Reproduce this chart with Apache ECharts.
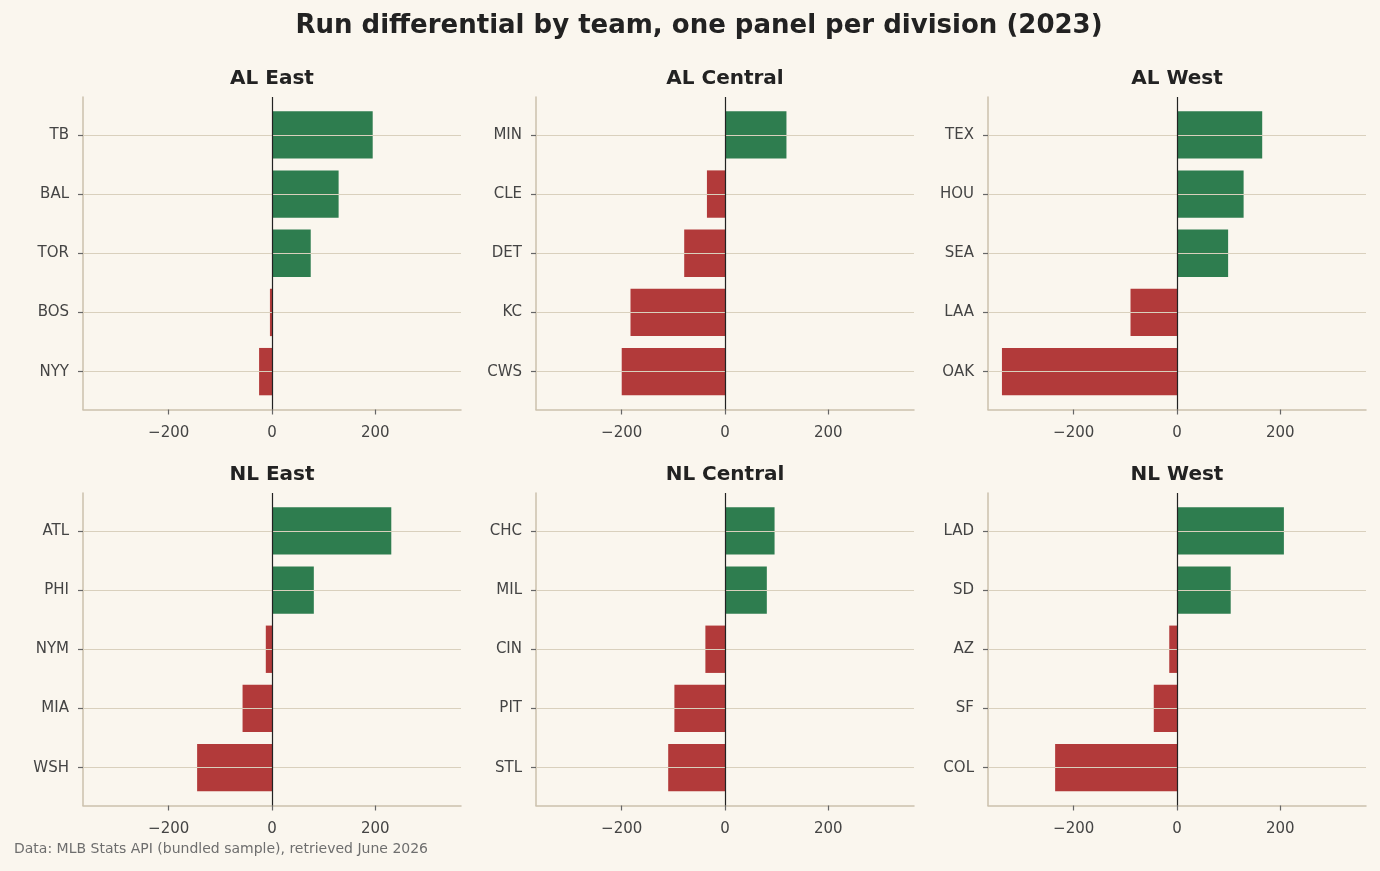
<!DOCTYPE html>
<html>
<head>
<meta charset="utf-8">
<title>Run differential by team (2023)</title>
<script src="https://cdn.jsdelivr.net/npm/echarts@6/dist/echarts.min.js"></script>
<style>
  html, body { margin: 0; padding: 0; background: #faf6ee; }
  #box { width: 1380px; height: 871px; }
</style>
</head>
<body>
<div id="box"></div>
<script>
// one panel per division, teams listed top to bottom
var divisions = ["AL East", "AL Central", "AL West", "NL East", "NL Central", "NL West"];
var teams = [
  ["TB", "BAL", "TOR", "BOS", "NYY"],
  ["MIN", "CLE", "DET", "KC", "CWS"],
  ["TEX", "HOU", "SEA", "LAA", "OAK"],
  ["ATL", "PHI", "NYM", "MIA", "WSH"],
  ["CHC", "MIL", "CIN", "PIT", "STL"],
  ["LAD", "SD", "AZ", "SF", "COL"]
];
var runDiff = [
  [195, 129, 75, -4, -25],
  [119, -35, -79, -183, -200],
  [165, 129, 99, -90, -339],
  [231, 81, -12, -57, -145],
  [96, 81, -38, -98, -110],
  [207, 104, -15, -45, -236]
];
var xTicks = [-200, 0, 200];
var xMin = -366, xMax = 366;

var font = "DejaVu Sans";
var green = "#2e7d4f", red = "#b23a3a";
var spine = "#cbc1ad", gridCol = "#d9d0bd", tickCol = "#666666", labelCol = "#444444";

var colLeft = [83, 536, 988];
var rowTop = [97, 493];
var plotW = 378, plotH = 312.5;
// barh in matplotlib: 5 bars of height 0.8 plus 5% margins -> range -0.64..4.64
var pad = plotH * 0.64 / 5.28;

var grids = [], xAxes = [], yAxes = [], series = [];
var titles = [{
  text: "Run differential by team, one panel per division (2023)",
  left: 699, top: 13, textAlign: "center", padding: 0,
  textStyle: { fontFamily: font, fontSize: 26, fontWeight: "bold", color: "#222222" }
}, {
  text: "Data: MLB Stats API (bundled sample), retrieved June 2026",
  left: 14, top: 842, padding: 0,
  textStyle: { fontFamily: font, fontSize: 14, fontWeight: "normal", color: "#6e6e6e" }
}];

function fmt(v) { return String(v).replace("-", "\u2212"); }

for (var i = 0; i < divisions.length; i++) {
  var px = colLeft[i % 3], py = rowTop[Math.floor(i / 3)];

  titles.push({
    text: divisions[i],
    left: px + plotW / 2, top: py - 28, textAlign: "center", padding: 0,
    textStyle: { fontFamily: font, fontSize: 20, fontWeight: "bold", color: "#222222" }
  });

  // outer grid: spines, x ticks, zero line
  grids.push({ left: px, top: py, width: plotW, height: plotH });
  // inner grid: categories and bars
  grids.push({ left: px, top: py + pad, width: plotW, height: plotH - 2 * pad });

  xAxes.push({
    gridIndex: 2 * i, type: "value", min: xMin, max: xMax,
    axisLine: { onZero: false, lineStyle: { color: spine, width: 1.5 } },
    axisTick: { customValues: xTicks, length: 5, lineStyle: { color: tickCol, width: 1.2 } },
    axisLabel: { customValues: xTicks, formatter: fmt, color: labelCol, fontSize: 15, fontFamily: font, margin: 16 },
    splitLine: { show: false }
  });
  xAxes.push({ gridIndex: 2 * i + 1, type: "value", min: xMin, max: xMax, show: false });

  yAxes.push({
    gridIndex: 2 * i, type: "value", min: 0, max: 1,
    axisLine: { show: true, onZero: false, lineStyle: { color: spine, width: 1.5 } },
    axisTick: { show: false }, axisLabel: { show: false }, splitLine: { show: false }
  });
  yAxes.push({
    gridIndex: 2 * i + 1, type: "category", data: teams[i], inverse: true, boundaryGap: false, z: 3,
    axisLine: { show: false, onZero: false },
    axisTick: { show: true, length: 5, lineStyle: { color: tickCol, width: 1.2 } },
    axisLabel: { color: labelCol, fontSize: 15, fontFamily: font, margin: 14 },
    splitLine: { show: true, lineStyle: { color: gridCol, width: 1.2 } }
  });

  // zero line across the whole panel height
  series.push({
    type: "line", xAxisIndex: 2 * i, yAxisIndex: 2 * i, data: [], silent: true,
    markLine: {
      symbol: "none", silent: true, label: { show: false }, z: 5,
      lineStyle: { color: "#222222", width: 1.2, type: "solid" },
      data: [{ xAxis: 0 }]
    }
  });
  series.push({
    type: "bar", xAxisIndex: 2 * i + 1, yAxisIndex: 2 * i + 1,
    barWidth: "80%", clip: false, silent: true,
    data: runDiff[i].map(function (v) {
      return { value: v, itemStyle: { color: v >= 0 ? green : red } };
    })
  });
}

var myChart = echarts.init(document.getElementById("box"));
myChart.setOption({
  backgroundColor: "#faf6ee",
  animation: false,
  title: titles,
  grid: grids,
  xAxis: xAxes,
  yAxis: yAxes,
  series: series
});
</script>
</body>
</html>
